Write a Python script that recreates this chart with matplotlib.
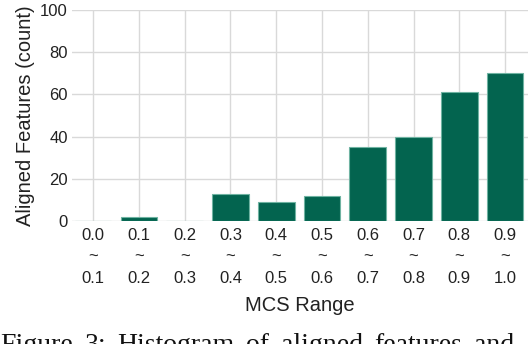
import matplotlib
matplotlib.use("Agg")
import matplotlib.pyplot as plt

lows = ["0.0", "0.1", "0.2", "0.3", "0.4", "0.5", "0.6", "0.7", "0.8", "0.9"]
highs = ["0.1", "0.2", "0.3", "0.4", "0.5", "0.6", "0.7", "0.8", "0.9", "1.0"]
counts = [0, 2, 0, 13, 9, 12, 35, 40, 61, 70]
yticks = [0, 20, 40, 60, 80, 100]
caption = "Figure 3: Histogram of aligned features and"

plt.rcParams['font.family'] = ['Liberation Sans', 'DejaVu Sans']

W, H = 530, 344
fig = plt.figure(figsize=(W / 100, H / 100), dpi=100)
ax = fig.add_axes([72/W, 1 - 221/H, 456/W, 211/H])

x = list(range(len(counts)))
ax.bar(x, counts, width=0.8, color='#03644F', edgecolor='#6fb3a2', linewidth=0.8, zorder=3)

ax.set_xlim(-0.46, 9.5)
ax.set_ylim(0, 100)
ax.set_yticks(yticks)
ax.set_xticks(x)
ax.set_xticklabels([f"{a}\n~\n{b}" for a, b in zip(lows, highs)], linespacing=1.56, fontsize=12)
ax.tick_params(axis='x', length=0, labelsize=12, pad=5, colors='#222222')
ax.tick_params(axis='y', length=0, labelsize=12, pad=3, colors='#222222')
ax.grid(True, color='#d9d9d9', linewidth=1.0, zorder=0)
for s in ax.spines.values():
    s.set_visible(False)
ax.set_ylabel("Aligned Features (count)", fontsize=14.5, color='#222222', labelpad=4)
ax.set_xlabel("MCS Range", fontsize=14.5, color='#222222', labelpad=7)

# justified caption (partially cut off at the bottom, as in the reference)
renderer = fig.canvas.get_renderer()
words = caption.split(" ")
y_cap = 1 - 333/H
items = []
for w in words:
    t = fig.text(0, y_cap, w, family=['Liberation Serif', 'DejaVu Serif'], fontsize=20,
                 va='top', ha='left', color='#111111')
    items.append(t)
widths = [t.get_window_extent(renderer).width for t in items]
target = 514.0
gap = (target - sum(widths)) / (len(words) - 1)
pos = 0.0
for t, wd in zip(items, widths):
    t.set_x(pos / W)
    pos += wd + gap

fig.savefig("out.png", dpi=100)
